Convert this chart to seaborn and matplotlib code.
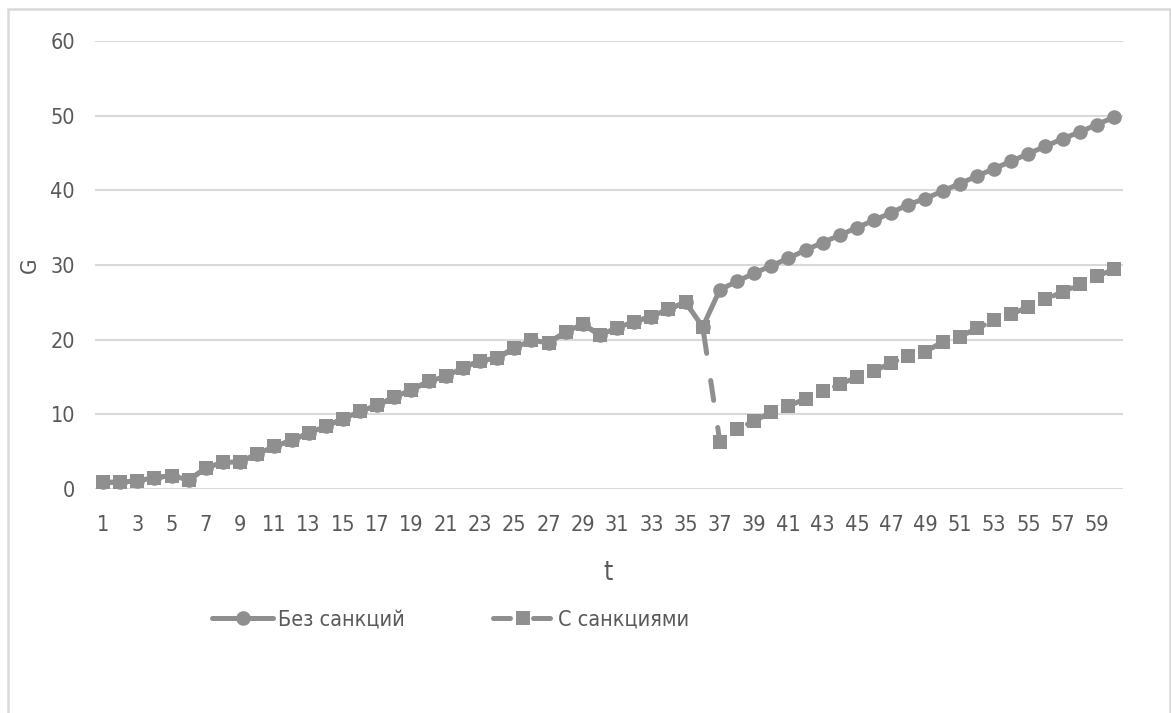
import numpy as np
import pandas as pd
import seaborn as sns
from matplotlib import pyplot as plt
from matplotlib.patches import Rectangle
from matplotlib.lines import Line2D

# === DATA ===

t = list(range(1, 61))

no_sanctions = [
    0.9, 0.9, 1.1, 1.5, 1.8, 1.2, 2.8, 3.6, 3.6, 4.7,
    5.7, 6.5, 7.5, 8.4, 9.4, 10.4, 11.2, 12.3, 13.3, 14.4,
    15.1, 16.2, 17.2, 17.5, 18.9, 19.9, 19.6, 21.0, 22.1, 20.6,
    21.6, 22.4, 23.1, 24.1, 25.0, 21.7, 26.7, 27.8, 28.9, 29.9,
    30.9, 32.0, 33.0, 34.0, 35.0, 36.0, 37.0, 38.1, 38.9, 39.9,
    40.9, 41.9, 42.9, 43.9, 44.9, 45.9, 46.9, 47.8, 48.8, 49.8,
]

with_sanctions = no_sanctions[:36] + [
    6.3, 8.0, 9.1, 10.3, 11.1, 12.1, 13.1, 14.0, 15.0, 15.8,
    16.9, 17.8, 18.4, 19.7, 20.4, 21.5, 22.6, 23.4, 24.4, 25.4,
    26.4, 27.4, 28.5, 29.4,
]

series_names = ['Без санкций', 'С санкциями']

# === PLOT ===

df = pd.concat([
    pd.DataFrame({'t': t, 'G': no_sanctions, 'series': series_names[0]}),
    pd.DataFrame({'t': t, 'G': with_sanctions, 'series': series_names[1]}),
])

sns.set_style('white')
plt.rcParams['font.family'] = ['DejaVu Sans']
plt.rcParams['font.stretch'] = 'condensed'

GRAY = '#8f8f8f'
TEXT = '#595959'
LW = 3.6
MS = 10.5

fig = plt.figure(figsize=(11.71, 7.13), dpi=100)
ax = fig.add_axes([94.5 / 1171, 1 - 489 / 713, (1122.5 - 94.5) / 1171, (489 - 41) / 713])

sns.lineplot(data=df, x='t', y='G', style='series', style_order=series_names,
             dashes={series_names[0]: '', series_names[1]: (4, 5.5)},
             markers={series_names[0]: 'o', series_names[1]: 's'},
             color=GRAY, linewidth=LW, markersize=MS, markeredgewidth=0,
             legend=False, ax=ax)

for line in ax.lines:
    line.set_clip_on(False)
    line.set_dash_capstyle('round')

ax.set_xlim(0.5, 60.5)
ax.set_ylim(0, 60)
ax.set_xticks(range(1, 61, 2))
ax.set_yticks(range(0, 61, 10))
ax.tick_params(axis='x', length=0, pad=19, labelsize=15.5, labelcolor=TEXT)
ax.tick_params(axis='y', length=0, pad=14, labelsize=15.5, labelcolor=TEXT)
ax.grid(axis='y', color='#d9d9d9', linewidth=1.5)
ax.set_axisbelow(True)
for spine in ax.spines.values():
    spine.set_visible(False)

ax.set_xlabel('t', fontsize=19, color=TEXT)
ax.set_ylabel('G', fontsize=16, color=TEXT)
ax.xaxis.set_label_coords(0.5, -(573 - 489) / 448, transform=ax.transAxes)
ax.yaxis.set_label_coords(-(94.5 - 30) / 1028, (489 - 265) / 448, transform=ax.transAxes)
ax.xaxis.label.set_va('center')
ax.yaxis.label.set_va('center')

handles = [
    Line2D([], [], color=GRAY, linewidth=LW, marker='o', markersize=MS,
           markeredgewidth=0, solid_capstyle='round'),
    Line2D([], [], color=GRAY, linewidth=LW, marker='s', markersize=MS,
           markeredgewidth=0, dashes=(3.4, 4.6), dash_capstyle='round'),
]
fig.legend(handles, series_names, loc='center left',
           bbox_to_anchor=(212 / 1171, 1 - 620 / 713), ncol=2, frameon=False,
           fontsize=15.5, labelcolor=TEXT, handlelength=2.85, handletextpad=0.2,
           columnspacing=4.1, borderaxespad=0, borderpad=0)

fig.patches.append(Rectangle((7.5 / 1171, -0.05), (1170 - 7.5) / 1171, 1.05 - 9.5 / 713,
                             transform=fig.transFigure, fill=False,
                             edgecolor='#d9d9d9', linewidth=1.8))

fig.savefig('out.png', dpi=100)
